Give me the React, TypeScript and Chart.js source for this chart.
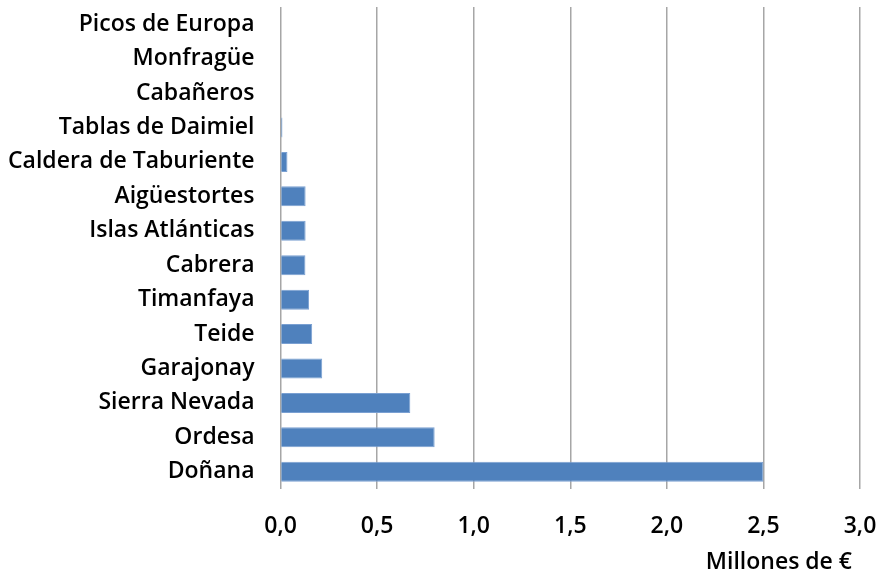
import React, { useEffect, useRef } from "react";
import { Chart, registerables } from "chart.js";

Chart.register(...registerables);

const categories = [
  "Picos de Europa",
  "Monfragüe",
  "Cabañeros",
  "Tablas de Daimiel",
  "Caldera de Taburiente",
  "Aigüestortes",
  "Islas Atlánticas",
  "Cabrera",
  "Timanfaya",
  "Teide",
  "Garajonay",
  "Sierra Nevada",
  "Ordesa",
  "Doñana",
];

const values = [0, 0, 0, 0.01, 0.036, 0.13, 0.13, 0.129, 0.148, 0.164, 0.216, 0.672, 0.798, 2.5];

const xTickLabels = ["0,0", "0,5", "1,0", "1,5", "2,0", "2,5", "3,0"];
const xTitle = "Millones de €";

const FONT = "'Open Sans'";

const axisTitlePlugin = {
  id: "axisTitle",
  afterDraw(chart: any) {
    const { ctx, chartArea, scales } = chart;
    ctx.save();
    ctx.font = `600 23px ${FONT}`;
    ctx.fillStyle = "#000";
    ctx.textAlign = "right";
    ctx.textBaseline = "middle";
    ctx.fillText(xTitle, chartArea.right - 8, scales.x.bottom - 16);
    ctx.restore();
  },
};

export default function App() {
  const ref = useRef<HTMLCanvasElement | null>(null);
  useEffect(() => {
    if (!ref.current) return;
    const chart = new Chart(ref.current, {
      type: "bar",
      data: {
        labels: categories,
        datasets: [
          {
            data: values,
            backgroundColor: "#4f81bd",
            borderColor: "#7aa0d2",
            borderWidth: 1,
            barPercentage: 0.58,
            categoryPercentage: 1,
          },
        ],
      },
      plugins: [axisTitlePlugin],
      options: {
        indexAxis: "y",
        animation: false,
        responsive: false,
        maintainAspectRatio: false,
        layout: { padding: { top: 7, right: 19, bottom: 1, left: 8 } },
        plugins: { legend: { display: false }, tooltip: { enabled: false } },
        scales: {
          x: {
            min: 0,
            max: 3,
            ticks: {
              stepSize: 0.5,
              color: "#000",
              padding: 24,
              font: { family: FONT, size: 23, weight: 600 },
              callback: (_v: any, i: number) => xTickLabels[i],
            },
            grid: {
              color: "#a6a6a6",
              lineWidth: 1.5,
              drawTicks: false,
            },
            border: { display: false },
            title: { display: false },
            afterFit: (scale: any) => {
              scale.height = 89;
              scale.paddingLeft = 0;
              scale.paddingRight = 0;
            },
          },
          y: {
            ticks: {
              color: "#000",
              padding: 26,
              font: { family: FONT, size: 23, weight: 600 },
            },
            grid: { display: false, drawTicks: false },
            border: { display: false },
            afterFit: (scale: any) => {
              scale.paddingTop = 0;
              scale.paddingBottom = 0;
              scale.width -= 26;
            },
          },
        },
      },
    });
    return () => chart.destroy();
  }, []);
  return (
    <div style={{ position: "absolute", left: 0, top: 0, width: 879, height: 579, background: "#fff" }}>
      <canvas ref={ref} width={879} height={579} />
    </div>
  );
}
